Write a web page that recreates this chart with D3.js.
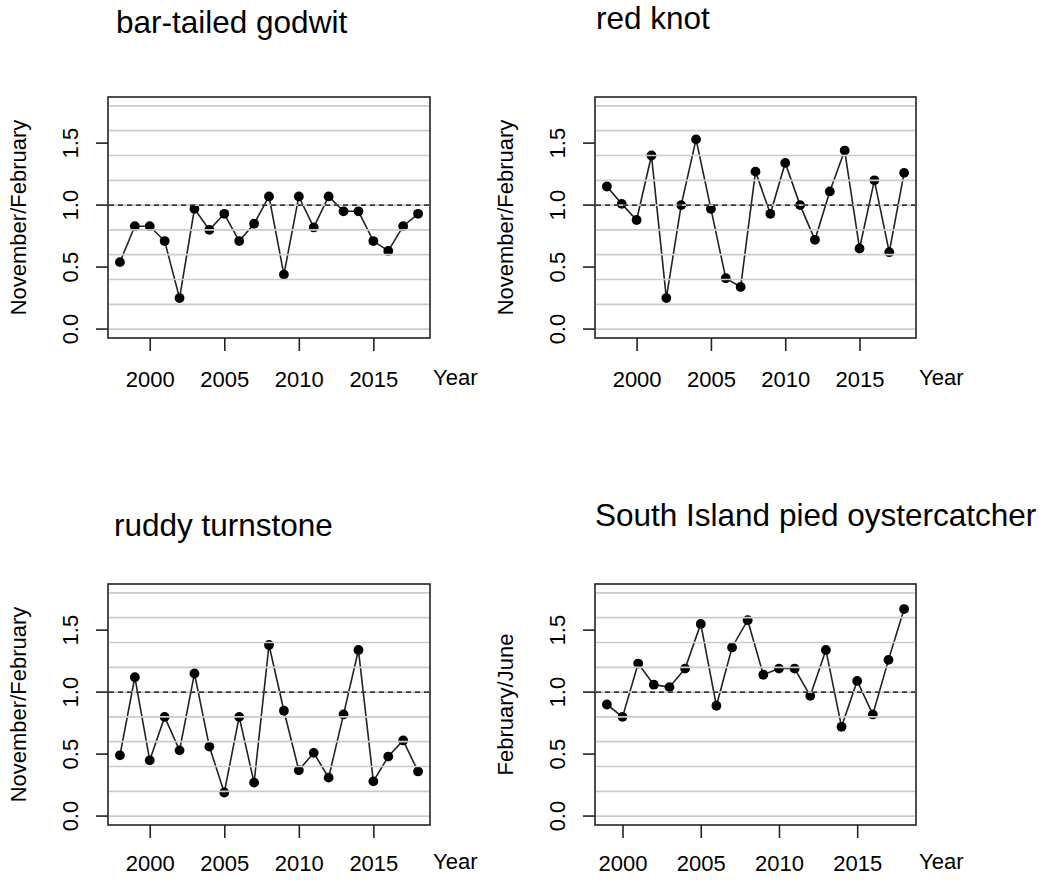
<!DOCTYPE html>
<html>
<head>
<meta charset="utf-8">
<script src="https://cdnjs.cloudflare.com/ajax/libs/d3/7.8.5/d3.min.js"></script>
<style>
    body { margin: 0; background: #fff; }
    svg text { font-family: "Liberation Sans", Arial, sans-serif; fill: #000; }
</style>
</head>
<body>
<div class="chart-content"></div>
<script>
// years
let years98 = [1998, 1999, 2000, 2001, 2002, 2003, 2004, 2005, 2006, 2007, 2008,
    2009, 2010, 2011, 2012, 2013, 2014, 2015, 2016, 2017, 2018];
let years99 = [1999, 2000, 2001, 2002, 2003, 2004, 2005, 2006, 2007, 2008,
    2009, 2010, 2011, 2012, 2013, 2014, 2015, 2016, 2017, 2018];

// ratios
let godwit = [0.54, 0.83, 0.83, 0.71, 0.25, 0.97, 0.80, 0.93, 0.71, 0.85, 1.07,
    0.44, 1.07, 0.82, 1.07, 0.95, 0.95, 0.71, 0.63, 0.83, 0.93];
let knot = [1.15, 1.01, 0.88, 1.40, 0.25, 1.00, 1.53, 0.97, 0.41, 0.34, 1.27,
    0.93, 1.34, 1.00, 0.72, 1.11, 1.44, 0.65, 1.20, 0.62, 1.26];
let turnstone = [0.49, 1.12, 0.45, 0.80, 0.53, 1.15, 0.56, 0.19, 0.80, 0.27, 1.38,
    0.85, 0.37, 0.51, 0.31, 0.82, 1.34, 0.28, 0.48, 0.61, 0.36];
let oystercatcher = [0.90, 0.80, 1.23, 1.06, 1.04, 1.19, 1.55, 0.89, 1.36, 1.58,
    1.14, 1.19, 1.19, 0.97, 1.34, 0.72, 1.09, 0.82, 1.26, 1.67];

let titles = ['bar-tailed godwit', 'red knot', 'ruddy turnstone', 'South Island pied oystercatcher'];
let yLabels = ['November/February', 'November/February', 'November/February', 'February/June'];
let xTicks = [2000, 2005, 2010, 2015];
let yTicks = [0, 0.5, 1, 1.5];
let gridLines = [0, 0.2, 0.4, 0.6, 0.8, 1.0, 1.2, 1.4, 1.6, 1.8];
let refLine = 1;

let W = 1048;
let H = 880;
let svg = d3.select('.chart-content')
    .append('svg')
    .attr('width', W)
    .attr('height', H);

// panel boxes: left, top, width, height, title position, label offset
let panels = [
    {x: 108, y: 97, w: 322, h: 241, tx: 116, ty: 33, lo: 49, years: years98, vals: godwit},
    {x: 595, y: 97, w: 321, h: 241, tx: 596, ty: 29, lo: 49, years: years98, vals: knot},
    {x: 108, y: 584, w: 322, h: 241, tx: 114, ty: 536, lo: 46, years: years98, vals: turnstone},
    {x: 595, y: 584, w: 321, h: 241, tx: 595, ty: 526, lo: 46, years: years99, vals: oystercatcher}
];

function drawPanel(p, i) {
    let g = svg.append('g').attr('transform', 'translate(' + p.x + ',' + p.y + ')');

    // R style 4% padding on both axes
    let x0 = d3.min(p.years), x1 = d3.max(p.years);
    let xPad = (x1 - x0) * 0.04;
    let x = d3.scaleLinear().domain([x0 - xPad, x1 + xPad]).range([0, p.w]);
    let y = d3.scaleLinear().domain([0 - 1.8 * 0.04, 1.8 + 1.8 * 0.04]).range([p.h, 0]);

    let data = p.years.map(function(d, j) { return [d, p.vals[j]]; });

    g.append('path')
        .datum(data)
        .attr('fill', 'none')
        .attr('stroke', '#222')
        .attr('stroke-width', 1.6)
        .attr('d', d3.line().x(function(d) { return x(d[0]); }).y(function(d) { return y(d[1]); }));

    g.selectAll('.pt')
        .data(data)
        .enter()
        .append('circle')
        .attr('cx', function(d) { return x(d[0]); })
        .attr('cy', function(d) { return y(d[1]); })
        .attr('r', 4.9)
        .attr('fill', '#000');

    // grey guide lines drawn over the data
    g.selectAll('.grid')
        .data(gridLines)
        .enter()
        .append('line')
        .attr('x1', 1)
        .attr('x2', p.w - 1)
        .attr('y1', function(d) { return y(d); })
        .attr('y2', function(d) { return y(d); })
        .attr('stroke', '#cbcbcb')
        .attr('stroke-width', 1.7);

    g.append('line')
        .attr('x1', 1)
        .attr('x2', p.w - 1)
        .attr('y1', y(refLine))
        .attr('y2', y(refLine))
        .attr('stroke', '#000')
        .attr('stroke-width', 1.4)
        .attr('stroke-dasharray', '5,4');

    g.append('rect')
        .attr('width', p.w)
        .attr('height', p.h)
        .attr('fill', 'none')
        .attr('stroke', '#222')
        .attr('stroke-width', 1.6);

    let xAxis = d3.axisBottom(x).tickValues(xTicks).tickSize(13).tickPadding(20).tickFormat(d3.format('d'));
    let yAxis = d3.axisLeft(y).tickValues(yTicks).tickSize(12).tickFormat(d3.format('.1f'));

    let gx = g.append('g').attr('transform', 'translate(0,' + p.h + ')').call(xAxis);
    gx.select('.domain').remove();
    gx.selectAll('line').attr('stroke', '#222').attr('stroke-width', 1.6);
    gx.selectAll('text')
        .attr('font-size', '22px')
        .attr('dy', null)
        .attr('y', p.lo)
        .style('font-family', '"Liberation Sans", Arial, sans-serif');

    let gy = g.append('g').call(yAxis);
    gy.select('.domain').remove();
    gy.selectAll('line').attr('stroke', '#222').attr('stroke-width', 1.6);
    gy.selectAll('text')
        .attr('font-size', '22px')
        .attr('x', null)
        .attr('dy', null)
        .attr('text-anchor', 'middle')
        .attr('transform', function(d) { return 'translate(-30,' + y(d) + ') rotate(-90)'; })
        .attr('y', 0)
        .style('font-family', '"Liberation Sans", Arial, sans-serif');
    gy.selectAll('.tick').attr('transform', null);
    gy.selectAll('.tick line').attr('transform', function(d) { return 'translate(0,' + y(d) + ')'; });

    g.append('text')
        .attr('x', p.w + 3)
        .attr('y', p.h + p.lo - 2)
        .attr('font-size', '22px')
        .text('Year');

    g.append('text')
        .attr('transform', 'translate(' + (-82) + ',' + (p.h / 2) + ') rotate(-90)')
        .attr('text-anchor', 'middle')
        .attr('font-size', '22px')
        .text(yLabels[i]);

    svg.append('text')
        .attr('x', p.tx)
        .attr('y', p.ty)
        .attr('font-size', '31.5px')
        .text(titles[i]);
}

panels.forEach(drawPanel);
</script>
</body>
</html>
